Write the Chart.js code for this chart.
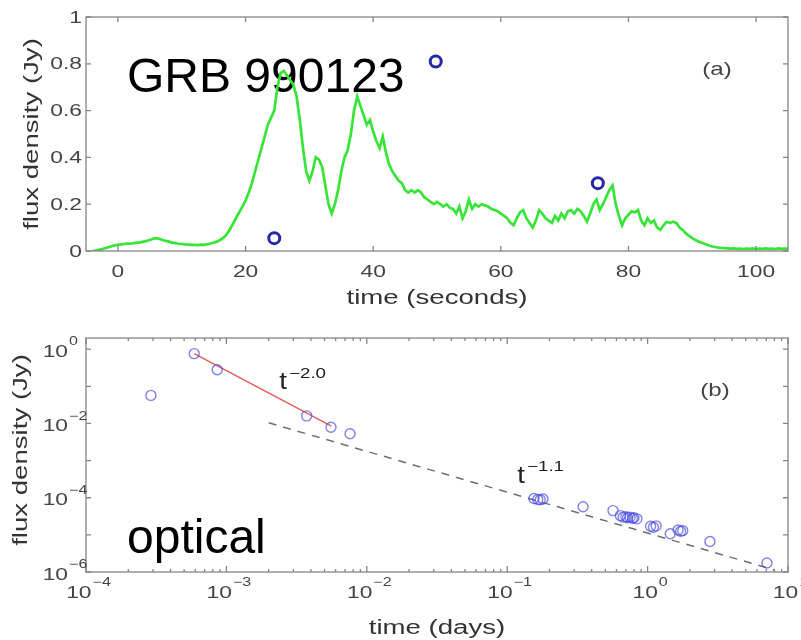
<!DOCTYPE html>
<html>
<head>
<meta charset="utf-8">
<script src="https://cdn.jsdelivr.net/npm/chart.js@4.4.1/dist/chart.umd.min.js"></script>
<style>
  html, body { margin: 0; padding: 0; background: #fff; }
  canvas { display: block; }
</style>
</head>
<body>
<canvas id="burstChart" width="801" height="320"></canvas>
<canvas id="opticalChart" width="801" height="320"></canvas>
<script>
// Panel (a): gamma-ray burst light curve, sampled every 0.5 s from t = -4 s
const burstStart = -4;
const burstStep = 0.5;
const burstFlux = [
    0, 0.002, 0.005, 0.008, 0.012, 0.016, 0.02, 0.024, 0.026, 0.028,
    0.03, 0.032, 0.031, 0.034, 0.036, 0.037, 0.04, 0.043, 0.047, 0.052,
    0.055, 0.052, 0.047, 0.043, 0.04, 0.036, 0.034, 0.031, 0.03, 0.028,
    0.027, 0.026, 0.026, 0.025, 0.027, 0.026, 0.029, 0.032, 0.035, 0.04,
    0.047, 0.056, 0.07, 0.09, 0.115, 0.14, 0.165, 0.19, 0.215, 0.25,
    0.29, 0.34, 0.39, 0.44, 0.49, 0.54, 0.57, 0.6, 0.7, 0.76,
    0.77, 0.75, 0.73, 0.71, 0.66, 0.56, 0.44, 0.34, 0.3, 0.34,
    0.4, 0.39, 0.36, 0.28, 0.2, 0.16, 0.2, 0.26, 0.34, 0.4,
    0.43, 0.5, 0.6, 0.66, 0.62, 0.58, 0.54, 0.56, 0.51, 0.47,
    0.44, 0.49, 0.42, 0.37, 0.34, 0.32, 0.3, 0.29, 0.26, 0.25,
    0.26, 0.25, 0.26, 0.25, 0.23, 0.22, 0.21, 0.2, 0.21, 0.2,
    0.19, 0.2, 0.185, 0.18, 0.16, 0.19, 0.14, 0.17, 0.22, 0.18,
    0.2, 0.19, 0.2, 0.195, 0.19, 0.18, 0.175, 0.17, 0.16, 0.15,
    0.14, 0.12, 0.11, 0.14, 0.165, 0.175, 0.14, 0.12, 0.1, 0.13,
    0.175, 0.16, 0.14, 0.13, 0.12, 0.15, 0.13, 0.16, 0.14, 0.17,
    0.175, 0.16, 0.18, 0.17, 0.15, 0.125, 0.16, 0.2, 0.22, 0.175,
    0.2, 0.23, 0.26, 0.28, 0.2, 0.15, 0.11, 0.14, 0.155, 0.17,
    0.165, 0.175, 0.13, 0.11, 0.14, 0.12, 0.13, 0.1, 0.09, 0.11,
    0.125, 0.12, 0.125, 0.12, 0.1, 0.09, 0.075, 0.065, 0.055, 0.047,
    0.04, 0.035, 0.03, 0.025, 0.02, 0.017, 0.015, 0.013, 0.012, 0.011,
    0.01, 0.011, 0.009, 0.01, 0.008, 0.01, 0.009, 0.011, 0.008, 0.01,
    0.009, 0.011, 0.009, 0.01, 0.008, 0.011, 0.009, 0.01, 0.01
];
// optical flashes measured during the burst
const flashTime = [24.5, 49.8, 75.2];
const flashFlux = [0.055, 0.81, 0.29];

// Panel (b): optical afterglow
const opticalTime = [
    2.9e-4, 5.9e-4, 8.6e-4, 3.73e-3, 5.56e-3, 7.6e-3,
    0.155, 0.165, 0.172, 0.18, 0.347, 0.567,
    0.64, 0.67, 0.7, 0.72, 0.75, 0.78, 0.8, 0.84,
    1.05, 1.1, 1.15, 1.45, 1.65, 1.72, 1.78, 2.78, 7.08
];
const opticalFlux = [
    0.057, 0.76, 0.28, 0.016, 0.0079, 0.0053,
    9.5e-5, 9e-5, 8.8e-5, 9.2e-5, 5.7e-5, 4.5e-5,
    3.3e-5, 3.0e-5, 3.1e-5, 2.9e-5, 3.0e-5, 2.8e-5, 2.9e-5, 2.7e-5,
    1.7e-5, 1.6e-5, 1.75e-5, 1.07e-5, 1.35e-5, 1.25e-5, 1.3e-5, 6.6e-6, 1.74e-6
];
// power-law fits: flux = amp * t^index over [from, to]
const earlyFit = [2.65e-7, -2.0, 5.9e-4, 5.6e-3];
const lateFit = [1.12e-5, -1.1, 2e-3, 8];

const topXTicks = [0, 20, 40, 60, 80, 100];
const topYTicks = [0, 0.2, 0.4, 0.6, 0.8, 1];
const topYLabels = ['0', '0.2', '0.4', '0.6', '0.8', '1'];
const logXExps = [-4, -3, -2, -1, 0, 1];
const logYExps = [-6, -5, -4, -3, -2, -1, 0];
const logYLabelExps = [-6, -4, -2, 0];

const FONT = '"Liberation Sans", Arial, Helvetica, sans-serif';
const SX = 1.34;          // the figure's lettering is set wide
const AXIS = '#858585';
const TICK_TEXT = '#444';

function wideText(ctx, str, x, y, size, align, color, sx) {
    ctx.save();
    ctx.font = size + 'px ' + FONT;
    ctx.fillStyle = color;
    ctx.textAlign = align;
    ctx.textBaseline = 'middle';
    ctx.translate(x, y);
    ctx.scale(sx, 1);
    ctx.fillText(str, 0, 0);
    ctx.restore();
}

function measure(ctx, str, size) {
    ctx.font = size + 'px ' + FONT;
    return ctx.measureText(str).width * SX;
}

// "10" with a raised exponent
function powerLabel(ctx, exp, x, y, mode) {
    const e = exp < 0 ? '\u2212' + (-exp) : String(exp);
    const wb = measure(ctx, '10', 17);
    const we = measure(ctx, e, 12);
    let left;
    if (mode === 'center') left = x - (wb + we) / 2;
    else left = x - wb; // base right-aligned at x
    wideText(ctx, '10', left, y, 17, 'left', TICK_TEXT, SX);
    wideText(ctx, e, left + wb + 1, y - 10, 12, 'left', TICK_TEXT, SX);
}

function box(ctx, a) {
    ctx.strokeStyle = AXIS;
    ctx.lineWidth = 1.3;
    ctx.strokeRect(a.left, a.top, a.right - a.left, a.bottom - a.top);
}

function xTick(ctx, a, px, len) {
    ctx.beginPath();
    ctx.moveTo(px, a.bottom); ctx.lineTo(px, a.bottom - len);
    ctx.moveTo(px, a.top); ctx.lineTo(px, a.top + len);
    ctx.stroke();
}

function yTick(ctx, a, py, len) {
    ctx.beginPath();
    ctx.moveTo(a.left, py); ctx.lineTo(a.left + len, py);
    ctx.moveTo(a.right, py); ctx.lineTo(a.right - len, py);
    ctx.stroke();
}

function yTitle(ctx, str, x, y) {
    ctx.save();
    ctx.translate(x, y);
    ctx.rotate(-Math.PI / 2);
    wideText(ctx, str, 0, 0, 20, 'center', '#333', 1.38);
    ctx.restore();
}

const burstFrame = {
    id: 'burstFrame',
    beforeDatasetsDraw(chart) {
        const ctx = chart.ctx;
        ctx.save();
        ctx.font = '48px ' + FONT;
        ctx.fillStyle = '#000';
        ctx.textBaseline = 'alphabetic';
        ctx.fillText('GRB 990123', 127, 92);
        ctx.restore();
    },
    afterDraw(chart) {
        const { ctx, chartArea: a, scales: { x, y } } = chart;
        ctx.save();
        box(ctx, a);
        topXTicks.forEach(v => {
            const px = x.getPixelForValue(v);
            xTick(ctx, a, px, 5);
            wideText(ctx, String(v), px, 272, 17, 'center', TICK_TEXT, SX);
        });
        topYTicks.forEach((v, i) => {
            const py = y.getPixelForValue(v);
            yTick(ctx, a, py, 5);
            wideText(ctx, topYLabels[i], 82, py + 1, 17, 'right', TICK_TEXT, SX);
        });
        wideText(ctx, 'time (seconds)', (a.left + a.right) / 2, 298, 20, 'center', '#333', 1.38);
        yTitle(ctx, 'flux density (Jy)', 32, (a.top + a.bottom) / 2);
        wideText(ctx, '(a)', 717, 70, 18, 'center', '#444', SX);
        ctx.restore();
    }
};

const opticalFrame = {
    id: 'opticalFrame',
    afterDraw(chart) {
        const { ctx, chartArea: a, scales: { x, y } } = chart;
        ctx.save();
        box(ctx, a);
        logXExps.forEach((e, i) => {
            const px = x.getPixelForValue(Math.pow(10, e));
            xTick(ctx, a, px, 6);
            powerLabel(ctx, e, px + 2, 273, 'center');
            if (i < logXExps.length - 1) {
                for (let m = 2; m <= 9; m++) {
                    xTick(ctx, a, x.getPixelForValue(m * Math.pow(10, e)), 3);
                }
            }
        });
        logYExps.forEach(e => {
            const py = y.getPixelForValue(Math.pow(10, e));
            yTick(ctx, a, py, 5);
            if (logYLabelExps.includes(e)) powerLabel(ctx, e, 68, py + 3, 'right');
        });
        wideText(ctx, 'time (days)', (a.left + a.right) / 2, 308, 20, 'center', '#333', 1.38);
        yTitle(ctx, 'flux density (Jy)', 21, 130);
        wideText(ctx, '(b)', 715, 71, 18, 'center', '#444', SX);

        // power-law labels
        wideText(ctx, 't', 283, 63, 23, 'center', '#222', 1.2);
        wideText(ctx, '\u22122.0', 289, 54, 14, 'left', '#222', SX);
        wideText(ctx, 't', 521, 157, 23, 'center', '#222', 1.2);
        wideText(ctx, '\u22121.1', 527, 147, 14, 'left', '#222', SX);

        ctx.font = '48px ' + FONT;
        ctx.fillStyle = '#000';
        ctx.textBaseline = 'alphabetic';
        ctx.fillText('optical', 127, 233);
        ctx.restore();
    }
};

function fitLine(fit) {
    const [amp, index, from, to] = fit;
    return [from, to].map(t => ({ x: t, y: amp * Math.pow(t, index) }));
}

const baseOptions = {
    responsive: false,
    animation: false,
    plugins: { legend: { display: false }, tooltip: { enabled: false } }
};

new Chart(document.getElementById('burstChart'), {
    type: 'scatter',
    data: {
        datasets: [
            {
                data: flashTime.map((t, i) => ({ x: t, y: flashFlux[i] })),
                pointRadius: 5.5,
                pointBorderWidth: 3,
                pointBorderColor: '#2626a6',
                pointBackgroundColor: 'rgba(0,0,0,0)'
            },
            {
                data: burstFlux.map((f, i) => ({ x: burstStart + i * burstStep, y: f })),
                showLine: true,
                borderColor: 'rgb(56, 228, 56)',
                borderWidth: 2.7,
                pointRadius: 0,
                tension: 0
            }
        ]
    },
    options: {
        ...baseOptions,
        layout: { padding: { left: 86, top: 17, right: 13, bottom: 69 } },
        scales: {
            x: { type: 'linear', display: false, min: -5, max: 105 },
            y: { type: 'linear', display: false, min: 0, max: 1 }
        }
    },
    plugins: [burstFrame]
});

new Chart(document.getElementById('opticalChart'), {
    type: 'scatter',
    data: {
        datasets: [
            {
                data: opticalTime.map((t, i) => ({ x: t, y: opticalFlux[i] })),
                pointRadius: 5,
                pointBorderWidth: 1.4,
                pointBorderColor: 'rgba(75, 75, 225, 0.7)',
                pointBackgroundColor: 'rgba(0,0,0,0)'
            },
            {
                data: fitLine(earlyFit),
                showLine: true,
                borderColor: 'rgb(228, 90, 90)',
                borderWidth: 1.4,
                pointRadius: 0
            },
            {
                data: fitLine(lateFit),
                showLine: true,
                borderColor: '#6e6e6e',
                borderWidth: 1.5,
                borderDash: [8, 7],
                pointRadius: 0
            }
        ]
    },
    options: {
        ...baseOptions,
        layout: { padding: { left: 86, top: 18, right: 13, bottom: 68 } },
        scales: {
            x: { type: 'logarithmic', display: false, min: 1e-4, max: 10 },
            y: { type: 'logarithmic', display: false, min: 1e-6, max: 2 }
        }
    },
    plugins: [opticalFrame]
});
</script>
</body>
</html>
